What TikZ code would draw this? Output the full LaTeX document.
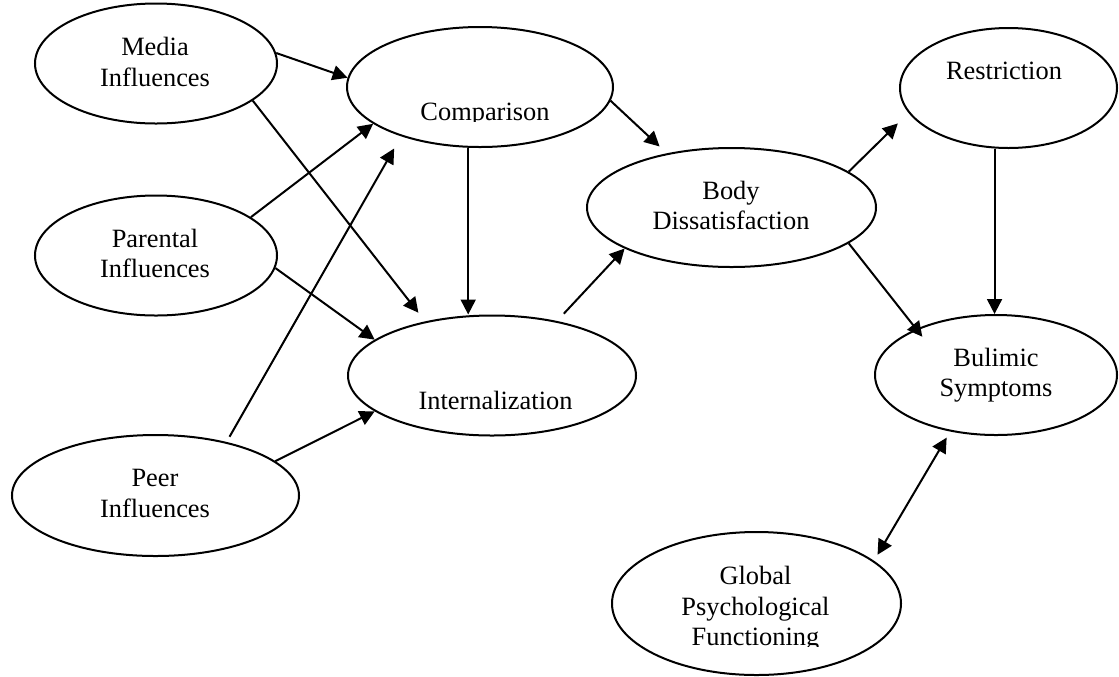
\documentclass[tikz,border=0pt]{standalone}
\usepackage{fontspec}
\setmainfont{Liberation Serif}
\usetikzlibrary{shapes.geometric,arrows.meta}
\tikzset{
  oval/.style={draw, ellipse, line width=1pt, inner sep=0pt},
  lab/.style={font=\fontsize{13.2}{15.3}\selectfont, align=center, inner sep=0pt},
  link/.style={line width=1pt, -{Triangle[length=7.5pt,width=7.5pt]}},
  twoway/.style={line width=1pt, {Triangle[length=7.5pt,width=7.5pt]}-{Triangle[length=7.5pt,width=7.5pt]}},
}

\begin{document}
\begin{tikzpicture}[x=0.5pt,y=-0.5pt]
  \useasboundingbox (0,0) rectangle (1119,676);
  % ovals
  \node[oval, minimum width=121pt, minimum height=60pt] (media) at (156,63.5) {};
  \node[oval, minimum width=121pt, minimum height=60pt] (par) at (156,255.5) {};
  \node[oval, minimum width=143.5pt, minimum height=60.5pt] (peer) at (155.5,495.5) {};
  \node[oval, minimum width=133pt, minimum height=60pt] (cmp) at (480,87) {};
  \node[oval, minimum width=144pt, minimum height=60pt] (intl) at (492,375.5) {};
  \node[oval, minimum width=144.5pt, minimum height=59.5pt] (body) at (731.5,207.5) {};
  \node[oval, minimum width=108.5pt, minimum height=60pt] (restr) at (1008.5,88) {};
  \node[oval, minimum width=121pt, minimum height=60pt] (bul) at (996,375) {};
  \node[oval, minimum width=144.5pt, minimum height=71.5pt] (glob) at (756.5,603.5) {};
  % labels
  \node[lab] (media-t) at (155,62) {Media\\Influences};
  \node[lab] (par-t) at (155,253.5) {Parental\\Influences};
  \node[lab] (peer-t) at (155,493.5) {Peer\\Influences};
  \begin{scope}
    \clip (340,20) rectangle (620,121.5);
    \node[lab, anchor=base] (cmp-t) at (485,120) {Comparison};
  \end{scope}
  \node[lab, anchor=base] (intl-t) at (495.5,409) {Internalization};
  \node[lab] (body-t) at (731,205.5) {Body\\Dissatisfaction};
  \node[lab, anchor=base] (restr-t) at (1004,79) {Restriction};
  \node[lab] (bul-t) at (996,375) {Bulimic\\Symptoms};
  \begin{scope}
    \clip (600,530) rectangle (910,646.7);
    \node[lab] (glob-t) at (755.5,609) {Global\\Psychological\\Functioning};
  \end{scope}
  % paths
  \draw[link] (media.5) -- (cmp.176);
  \draw[link, shorten >=5.5pt] (media.339) -- (intl.141);
  \draw[link] (par.22) -- (cmp.199);
  \draw[link] (par.354) -- (intl.163);
  \draw[link, shorten <=3pt, shorten >=7pt] (peer.37) -- (cmp.212);
  \draw[link] (peer.16) -- (intl.197);
  \draw[link] (cmp.259) -- (cmp.259 |- intl.north);
  \draw[link, shorten >=5pt] (cmp.354) -- (body.140);
  \draw[link, shorten <=5pt] (intl.40) -- (body.201);
  \draw[link, shorten >=7.5pt] (body.17) -- (restr.194);
  \draw[link, shorten >=-5pt] (body.343) -- (bul.150);
  \draw[link] (restr.257) -- (restr.257 |- bul.north);
  \draw[twoway, shorten <=3.5pt, shorten >=3.5pt] (bul.231) -- (glob.20);
\end{tikzpicture}
\end{document}
